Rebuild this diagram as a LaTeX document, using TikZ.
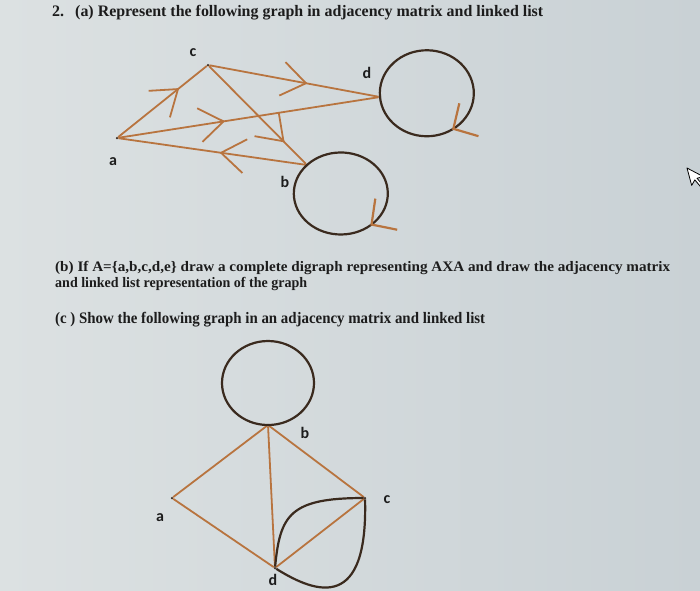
\documentclass[tikz,border=0pt]{standalone}
\usepackage{fontspec}
\setmainfont{Liberation Serif}
\newfontfamily\lblfamily{Carlito}
\usetikzlibrary{arrows.meta,decorations.markings}
\definecolor{bgl}{HTML}{DCE1E2}
\definecolor{bgr}{HTML}{C9D1D5}
\definecolor{edgec}{HTML}{B8743F}
\definecolor{loopc}{HTML}{3A2A1E}
\definecolor{inkc}{HTML}{1C1C1C}

\begin{document}
\begin{tikzpicture}[x=1pt, y=1pt,
  edge/.style={draw=edgec, line width=1.8pt},
  loopedge/.style={draw=loopc, line width=2.2pt},
  vtx/.style={circle, inner sep=0pt, minimum size=2.5pt, fill=loopc},
  vlabel/.style={inner sep=0pt, text=inkc, font=\lblfamily\bfseries\fontsize{16}{16}\selectfont},
  qline/.style={anchor=base west, inner sep=0pt, text=inkc, font=\bfseries\fontsize{16}{16}\selectfont},
  qsmall/.style={qline, font=\bfseries\fontsize{14.5}{14.5}\selectfont},
  midarrow/.style={postaction={decorate}, decoration={markings,
      mark=at position #1 with {\arrow{Straight Barb[length=24pt,width=34pt]}}}},
  looparrow/.style={postaction={decorate}, decoration={markings,
      mark=at position #1 with {\arrow[edgec]{Straight Barb[length=18pt,width=38pt]}}}}]
	\useasboundingbox (0,0) rectangle (700,-590);
	\fill[left color=bgl, right color=bgr] (0,0) rectangle (700,-590);

	% question text
	\node[qline] (qnum) at (52,-16) {2.};
	\node[qline] (qa) at (75,-16) {\resizebox{468pt}{\height}{(a) Represent the following graph in adjacency matrix and linked list}};
	\node[qsmall] (qb) at (55,-271) {\resizebox{615pt}{\height}{(b) If A=\{a,b,c,d,e\} draw a complete digraph representing AXA and draw the adjacency matrix}};
	\node[qsmall] (qb2) at (55,-287) {\resizebox{252pt}{\height}{and linked list representation of the graph}};
	\node[qline] (qc) at (55,-323) {\resizebox{430pt}{\height}{(c ) Show the following graph in an adjacency matrix and linked list}};

	% graph (a)
	\node[vtx] (a) at (117,-138) {};
	\node[vtx] (c) at (208,-65) {};
	\node[vtx] (d) at (380,-97) {};
	\node[vtx] (b) at (307,-165) {};
	\node[vlabel] (la) at (113,-162) {a};
	\node[vlabel] (lc) at (193,-53) {c};
	\node[vlabel] (ld) at (367,-73) {d};
	\node[vlabel] (lb) at (285,-182) {b};
	\draw[edge, midarrow=0.69] (a) -- (c);
	\draw[edge, midarrow=0.58] (c) -- (d);
	\draw[edge, midarrow=0.78] (c) -- (b);
	\draw[edge, midarrow=0.41] (a) -- (d);
	\draw[edge, midarrow=0.46] (b) -- (a);
	\draw[loopedge, looparrow=0.67] (d) arc[start angle=185, end angle=-175, x radius=47, y radius=43];
	\draw[loopedge, looparrow=0.52] (b) arc[start angle=136, end angle=-224, x radius=47, y radius=41];

	% graph (c)
	\node[vtx] (b2) at (268,-425) {};
	\node[vtx] (a2) at (172,-498) {};
	\node[vtx] (c2) at (365,-498) {};
	\node[vtx] (d2) at (275,-568) {};
	\node[vlabel] (lb2) at (305,-433) {b};
	\node[vlabel] (la2) at (160,-518) {a};
	\node[vlabel] (lc2) at (387,-500) {c};
	\node[vlabel] (ld2) at (273,-580) {d};
	\draw[edge] (b2) -- (a2);
	\draw[edge] (b2) -- (d2);
	\draw[edge] (b2) -- (c2);
	\draw[edge] (a2) -- (d2);
	\draw[edge] (c2) -- (d2);
	\draw[loopedge] (b2) arc[start angle=270, end angle=-90, x radius=46, y radius=42];
	\draw[loopedge] (d2) .. controls (280,-515) and (290,-498) .. (c2);
	\draw[loopedge] (c2) .. controls (368,-610) and (318,-595) .. (d2);

	% mouse pointer
	\draw[fill=white, draw=black, line width=0.8pt, line join=round, rotate around={15:(687,-168)}]
		(687,-168) -- ++(0,-18) -- ++(4.5,4.5) -- ++(3.5,-7.5) -- ++(2.5,1.2) -- ++(-3.5,7.3) -- ++(6.5,0) -- cycle;
\end{tikzpicture}
\end{document}
